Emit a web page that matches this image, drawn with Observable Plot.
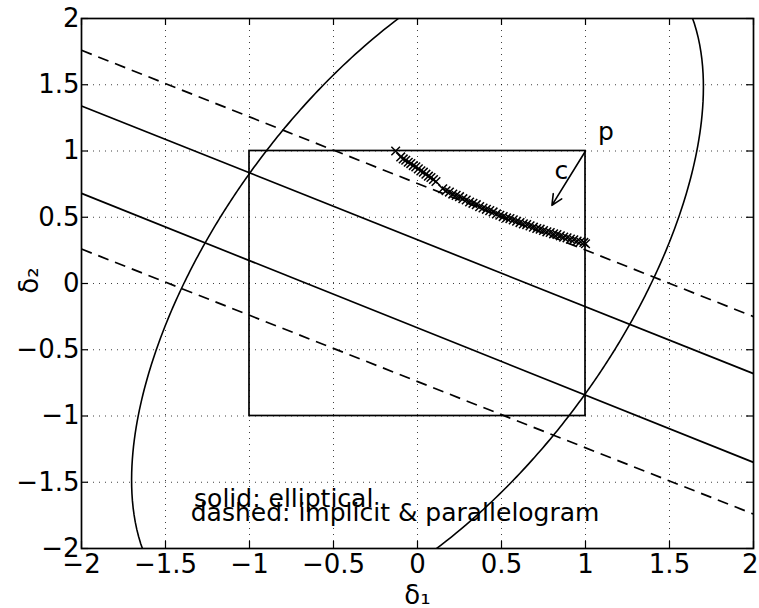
<!DOCTYPE html>
<html><head><meta charset="utf-8">
<script src="https://cdn.jsdelivr.net/npm/d3@7"></script>
<script src="https://cdn.jsdelivr.net/npm/@observablehq/plot@0.6"></script>
<style>body{margin:0;background:#fff} svg{display:block}</style>
</head><body><div id="chart"></div>
<script>
// ---- data ----
const xTicks = [-2, -1.5, -1, -0.5, 0, 0.5, 1, 1.5, 2];
const yTicks = [-2, -1.5, -1, -0.5, 0, 0.5, 1, 1.5, 2];
const solidLines = [
  {x1: -2, y1: 1.34, x2: 2, y2: -0.68},
  {x1: -2, y1: 0.68, x2: 2, y2: -1.35}
];
const dashedLines = [
  {x1: -2, y1: 1.76, x2: 2, y2: -0.25},
  {x1: -2, y1: 0.26, x2: 2, y2: -1.74}
];
const box = [{x1: -1, x2: 1, y1: -1, y2: 1}];
// ellipse  a*x^2 + 2*b*x*y + c*y^2 = 1 (coefficients)
const ellipseA = 0.517, ellipseB = -0.197, ellipseC = 0.226;
const trajX = [-0.13,-0.10,-0.085,-0.07,-0.055,-0.04,-0.025,-0.01,0.005,0.02,0.035,0.05,0.065,0.08,0.095,0.11,
  0.15,0.17,0.19,0.21,0.23,0.25,0.27,0.29,0.31,0.33,0.35,0.37,0.39,0.41,0.43,0.45,0.47,0.49,0.51,0.53,0.55,
  0.57,0.59,0.61,0.63,0.65,0.67,0.69,0.71,0.73,0.75,0.77,0.79,0.81,0.83,0.85,0.87,0.89,0.91,0.93,0.95,0.97,0.99,1.0];
const trajY = [1.00,0.955,0.94,0.93,0.915,0.905,0.89,0.88,0.865,0.85,0.84,0.825,0.81,0.80,0.785,0.77,
  0.715,0.70,0.69,0.675,0.665,0.655,0.64,0.63,0.615,0.605,0.595,0.58,0.57,0.56,0.55,0.54,0.525,0.515,0.505,0.495,0.49,
  0.48,0.47,0.46,0.45,0.445,0.435,0.425,0.415,0.41,0.40,0.39,0.385,0.375,0.37,0.36,0.35,0.345,0.335,0.33,0.32,0.315,0.31,0.30];
const arrowData = [{x1: 1, y1: 1, x2: 0.80, y2: 0.59}];
const annotations = [
  {x: 1.075, y: 1.08, text: "p"},
  {x: 0.815, y: 0.785, text: "c"},
  {x: -1.33, y: -1.685, text: "solid: elliptical"},
  {x: -1.35, y: -1.79, text: "dashed: implicit & parallelogram"}
];
const xLabel = "δ₁", yLabel = "δ₂";

// ---- layout ----
const W = 759, H = 608, mT = 18, mB = 60, mL = 81, mR = 6;
const tickPx = 7;
const tY = tickPx / ((H - mT - mB) / 4), tX = tickPx / ((W - mL - mR) / 4);
const fmt = d => String(d).replace("-", "\u2212");
const xTicksMain = xTicks.slice(0, -1), xTickLast = xTicks.slice(-1);

const traj = trajX.map((x, i) => ({x, y: trajY[i]}));
const ell = d3.range(0, 361, 1).map(deg => {
  const t = deg * Math.PI / 180, c = Math.cos(t), s = Math.sin(t);
  const r = 1 / Math.sqrt(ellipseA * c * c + 2 * ellipseB * c * s + ellipseC * s * s);
  return {x: r * c, y: r * s};
});

const chart = Plot.plot({
  width: W, height: H,
  marginTop: mT, marginBottom: mB, marginLeft: mL, marginRight: mR,
  x: {domain: [-2, 2], label: null},
  y: {domain: [-2, 2], label: null},
  style: {fontFamily: "DejaVu Sans", fontSize: "26px", background: "#fff", color: "#000", overflow: "visible"},
  marks: [
    Plot.gridX(xTicks, {stroke: "#000", strokeOpacity: 0.75, strokeDasharray: "1,5", strokeWidth: 1}),
    Plot.gridY(yTicks, {stroke: "#000", strokeOpacity: 0.75, strokeDasharray: "1,5", strokeWidth: 1}),
    Plot.ruleX(xTicks, {x: d => d, y1: -2, y2: -2 + tY, stroke: "#000", strokeWidth: 1.2}),
    Plot.ruleX(xTicks, {x: d => d, y1: 2, y2: 2 - tY, stroke: "#000", strokeWidth: 1.2}),
    Plot.ruleY(yTicks, {y: d => d, x1: -2, x2: -2 + tX, stroke: "#000", strokeWidth: 1.2}),
    Plot.ruleY(yTicks, {y: d => d, x1: 2, x2: 2 - tX, stroke: "#000", strokeWidth: 1.2}),
    Plot.line(ell, {x: "x", y: "y", stroke: "#000", strokeWidth: 1.6, clip: true}),
    Plot.link(solidLines, {x1: "x1", y1: "y1", x2: "x2", y2: "y2", stroke: "#000", strokeWidth: 1.7}),
    Plot.link(dashedLines, {x1: "x1", y1: "y1", x2: "x2", y2: "y2", stroke: "#000", strokeWidth: 1.7, strokeDasharray: "11,7"}),
    Plot.rect(box, {x1: "x1", x2: "x2", y1: "y1", y2: "y2", fill: "none", stroke: "#000", strokeWidth: 1.7}),
    Plot.dot(traj, {x: "x", y: "y", symbol: "times", r: 4, stroke: "#000", strokeWidth: 1.5}),
    Plot.arrow(arrowData, {x1: "x1", y1: "y1", x2: "x2", y2: "y2", stroke: "#000", strokeWidth: 1.6, headLength: 11, headAngle: 50}),
    Plot.text(annotations, {x: "x", y: "y", text: "text", textAnchor: "start", lineAnchor: "bottom", fontSize: 25, fill: "#000"}),
    Plot.frame({stroke: "#000", strokeWidth: 1.7}),
    Plot.axisX(xTicksMain, {anchor: "bottom", tickSize: 0, tickPadding: 6, tickFormat: fmt, fontSize: 26, label: null}),
    Plot.axisX(xTickLast, {anchor: "bottom", tickSize: 0, tickPadding: 6, tickFormat: fmt, fontSize: 26, label: null, textAnchor: "end", dx: 5}),
    Plot.axisY(yTicks, {anchor: "left", tickSize: 0, tickPadding: 2, tickFormat: fmt, fontSize: 26, label: null}),
    Plot.text([xLabel], {text: d => d, frameAnchor: "bottom", dy: 55, lineAnchor: "bottom", fontSize: 26, fill: "#000"}),
    Plot.text([yLabel], {text: d => d, frameAnchor: "left", dx: -44, dy: -3, rotate: -90, textAnchor: "middle", lineAnchor: "bottom", fontSize: 26, fill: "#000"})
  ]
});
document.getElementById("chart").appendChild(chart);
</script>
</body></html>
